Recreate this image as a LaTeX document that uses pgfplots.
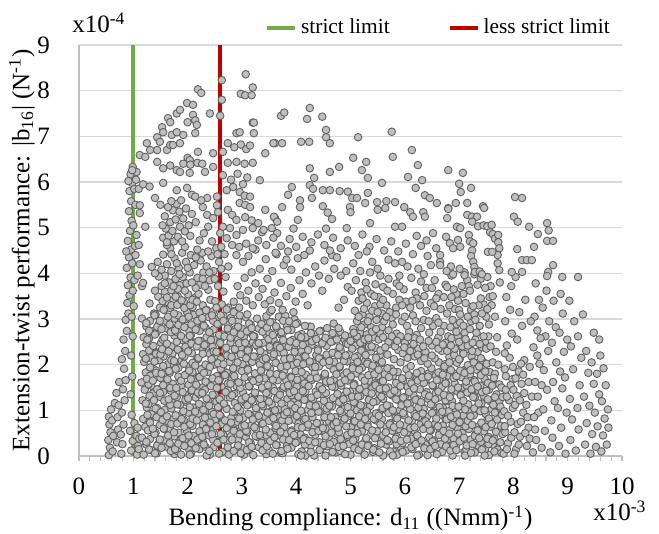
\documentclass[border=0pt]{standalone}
\usepackage{fontspec}
\setmainfont{Liberation Serif}
\usepackage{pgfplots}
\pgfplotsset{compat=1.18}
\definecolor{limgreen}{HTML}{70AD47}
\definecolor{limred}{HTML}{C00000}
\definecolor{gridgray}{HTML}{D9D9D9}
\definecolor{axgray}{HTML}{BFBFBF}
\newcommand{\lbl}{\fontsize{12.5}{14}\selectfont}
\pgfplotsset{dot/.style={only marks, mark=*, mark size=1.9pt,
  mark options={fill=gray!50, draw=black!62, line width=0.45pt}, forget plot}}

\begin{document}
\begin{tikzpicture}
\begin{axis}[
  width=271.5pt, height=205.5pt, scale only axis,
  xmin=0, xmax=10, ymin=0, ymax=9,
  xtick={0,...,10}, ytick={0,...,9},
  minor x tick num=4,
  axis x line*=bottom, axis y line*=left,
  axis line style={axgray, line width=0.6pt},
  ymajorgrids, grid style={gridgray, line width=0.6pt},
  tick align=outside,
  major tick length=2.5pt, minor tick length=2.5pt,
  x tick style={axgray, line width=0.6pt},
  y tick style={draw=none},
  clip=false,
  /pgf/number format/assume math mode=true,
  tick label style={font=\lbl},
  yticklabel style={xshift=-8.5pt},
  xticklabel style={yshift=-5pt},
  legend style={at={(axis description cs:0.331,1)}, anchor=south west,
    draw=none, fill=none, font=\fontsize{10.7}{12}\selectfont,
    /tikz/every even column/.append style={column sep=27pt}},
  legend columns=2,
  legend image code/.code={\draw[#1] (0pt,0pt) -- (14pt,0pt);},
]
% left edge
\addplot[dot] coordinates {
(0.55,0.02)(0.57,0.18)(0.54,0.35)(0.58,0.52)(0.56,0.69)(0.55,0.86)(0.59,1.02)(0.62,0.10)(0.63,0.44)(0.61,0.78)(0.66,1.16)(0.70,0.30)(0.72,0.58)(0.71,0.85)(0.69,1.38)(0.74,1.62)(0.73,1.11)
(0.78,0.05)(0.80,0.26)(0.77,0.47)(0.82,0.69)(0.79,0.95)(0.84,1.22)(0.81,1.46)(0.86,1.66)(0.83,1.91)(0.79,2.12)(0.85,2.30)(0.82,2.55)(0.88,2.74)(0.86,2.98)(0.91,3.12)(0.89,3.35)(0.93,3.52)(0.90,3.74)(0.95,3.91)(0.88,4.12)(0.92,4.35)(0.96,4.52)(0.90,4.71)(0.94,4.93)(0.97,5.15)(0.92,5.36)(0.96,5.58)(0.93,5.80)(0.98,5.98)(0.95,6.17)(0.99,6.33)(0.91,6.02)(0.87,4.48)
(0.96,0.12)(0.99,0.33)(0.94,0.55)(1.02,0.72)(0.97,0.90)(0.95,1.35)(0.98,1.74)(0.96,2.20)(0.99,2.62)(0.97,3.05)(1.01,3.28)(0.99,3.62)(1.02,3.85)(0.98,4.22)(1.03,4.60)(1.00,5.05)(1.04,5.50)(1.02,5.85)(1.06,6.22)
(1.07,0.03)(1.09,0.22)(1.06,0.44)(1.10,0.15)(1.08,0.62)(1.11,0.38)
};
% dense core, first layer
\addplot[dot] coordinates {
(1.19,0.03)(1.24,0.25)(1.16,0.40)(1.22,0.64)(1.18,0.81)(1.25,1.06)(1.17,1.22)(1.21,1.45)(1.15,1.61)(1.23,1.83)(1.20,2.06)(1.18,2.23)(1.24,2.45)(1.19,2.60)(1.24,2.84)(1.16,3.01)
(1.35,0.12)(1.31,0.37)(1.38,0.53)(1.30,0.76)(1.34,0.92)(1.28,1.14)(1.36,1.37)(1.33,1.54)(1.31,1.76)(1.37,1.91)(1.32,2.15)(1.37,2.32)(1.29,2.57)(1.35,2.73)(1.31,2.96)(1.38,3.12)(1.30,3.34)
(1.43,0.06)(1.47,0.28)(1.41,0.51)(1.49,0.68)(1.46,0.90)(1.44,1.05)(1.50,1.29)(1.45,1.46)(1.50,1.71)(1.42,1.87)(1.48,2.10)(1.44,2.26)(1.51,2.48)(1.43,2.71)(1.47,2.88)(1.41,3.10)(1.49,3.25)(1.46,3.49)
(1.62,0.20)(1.59,0.35)(1.57,0.59)(1.63,0.76)(1.58,1.01)(1.63,1.17)(1.55,1.40)(1.61,1.56)(1.57,1.78)(1.64,2.01)(1.56,2.18)(1.60,2.40)(1.54,2.55)(1.62,2.79)(1.59,2.96)(1.57,3.21)(1.63,3.37)(1.58,3.60)
(1.76,0.04)(1.71,0.20)(1.76,0.43)(1.68,0.59)(1.74,0.81)(1.70,1.04)(1.77,1.21)(1.69,1.43)(1.73,1.58)(1.67,1.82)(1.75,1.99)(1.72,2.24)(1.70,2.40)(1.76,2.63)(1.71,2.79)(1.76,3.01)(1.68,3.24)(1.74,3.41)(1.70,3.63)
(1.81,0.11)(1.87,0.34)(1.83,0.51)(1.90,0.73)(1.82,0.88)(1.86,1.12)(1.80,1.29)(1.88,1.54)(1.85,1.70)(1.83,1.93)(1.89,2.09)(1.84,2.31)(1.89,2.54)(1.81,2.71)(1.87,2.93)(1.83,3.08)(1.90,3.32)(1.82,3.49)(1.86,3.74)
(2.03,0.13)(1.95,0.37)(1.99,0.54)(1.93,0.79)(2.01,0.95)(1.98,1.18)(1.96,1.34)(2.02,1.56)(1.97,1.79)(2.02,1.96)(1.94,2.18)(2.00,2.33)(1.96,2.57)(2.03,2.74)(1.95,2.99)(1.99,3.15)(1.93,3.38)(2.01,3.54)
(2.06,0.05)(2.14,0.28)(2.11,0.44)(2.09,0.66)(2.15,0.89)(2.10,1.06)(2.15,1.28)(2.07,1.43)(2.13,1.67)(2.09,1.84)(2.16,2.09)(2.08,2.25)(2.12,2.48)(2.06,2.64)(2.14,2.86)(2.11,3.09)(2.09,3.26)(2.15,3.48)
(2.22,0.15)(2.28,0.32)(2.23,0.54)(2.28,0.69)(2.20,0.93)(2.26,1.10)(2.22,1.35)(2.29,1.51)(2.21,1.74)(2.25,1.90)(2.19,2.12)(2.27,2.35)(2.24,2.52)(2.22,2.74)(2.28,2.89)(2.23,3.13)(2.28,3.30)(2.20,3.55)
(2.41,0.03)(2.33,0.20)(2.39,0.45)(2.35,0.61)(2.42,0.84)(2.34,1.00)(2.38,1.22)(2.32,1.45)(2.40,1.62)(2.37,1.84)(2.35,1.99)(2.41,2.23)(2.36,2.40)(2.41,2.65)(2.33,2.81)(2.39,3.04)(2.35,3.20)(2.42,3.42)
(2.48,0.19)(2.55,0.35)(2.47,0.57)(2.51,0.80)(2.45,0.97)(2.53,1.19)(2.50,1.34)(2.48,1.58)(2.54,1.75)(2.49,2.00)(2.54,2.16)(2.46,2.39)(2.52,2.55)(2.48,2.77)(2.55,3.00)(2.47,3.17)(2.51,3.39)
(2.64,0.09)(2.58,0.31)(2.66,0.46)(2.63,0.70)(2.61,0.87)(2.67,1.12)(2.62,1.28)(2.67,1.51)(2.59,1.67)(2.65,1.89)(2.61,2.12)(2.68,2.29)(2.60,2.51)(2.64,2.66)(2.58,2.90)(2.66,3.07)(2.63,3.32)
(2.76,0.03)(2.74,0.28)(2.80,0.44)(2.75,0.67)(2.80,0.83)(2.72,1.05)(2.78,1.28)(2.74,1.45)(2.81,1.67)(2.73,1.82)(2.77,2.06)(2.71,2.23)(2.79,2.48)(2.76,2.64)(2.74,2.87)(2.80,3.03)(2.75,3.25)
(2.88,0.13)(2.93,0.35)(2.85,0.58)(2.91,0.75)(2.87,0.97)(2.94,1.12)(2.86,1.36)(2.90,1.53)(2.84,1.78)(2.92,1.94)(2.89,2.17)(2.87,2.33)(2.93,2.55)(2.88,2.78)(2.93,2.95)(2.85,3.17)
(3.04,0.03)(3.00,0.18)(3.07,0.42)(2.99,0.59)(3.03,0.84)(2.97,1.00)(3.05,1.23)(3.02,1.39)(3.00,1.61)(3.06,1.84)(3.01,2.01)(3.06,2.23)(2.98,2.38)(3.04,2.62)(3.00,2.79)(3.07,3.04)
(3.12,0.13)(3.16,0.29)(3.10,0.52)(3.18,0.68)(3.15,0.90)(3.13,1.13)(3.19,1.30)(3.14,1.52)(3.19,1.67)(3.11,1.91)(3.17,2.08)(3.13,2.33)(3.20,2.49)(3.12,2.72)(3.16,2.88)(3.10,3.10)
(3.31,0.19)(3.28,0.42)(3.26,0.59)(3.32,0.81)(3.27,0.96)(3.32,1.20)(3.24,1.37)(3.30,1.62)(3.26,1.78)(3.33,2.01)(3.25,2.17)(3.29,2.39)(3.23,2.62)(3.31,2.79)(3.28,3.01)
(3.45,0.04)(3.40,0.28)(3.45,0.45)(3.37,0.70)(3.43,0.86)(3.39,1.09)(3.46,1.25)(3.38,1.47)(3.42,1.70)(3.36,1.87)(3.44,2.09)(3.41,2.24)(3.39,2.48)(3.45,2.65)(3.40,2.90)(3.45,3.06)
(3.50,0.12)(3.56,0.35)(3.52,0.51)(3.59,0.73)(3.51,0.96)(3.55,1.13)(3.49,1.35)(3.57,1.50)(3.54,1.74)(3.52,1.91)(3.58,2.16)(3.53,2.32)(3.58,2.55)(3.50,2.71)(3.56,2.93)(3.52,3.16)
(3.72,0.07)(3.64,0.24)(3.68,0.46)(3.62,0.61)(3.70,0.85)(3.67,1.02)(3.65,1.27)(3.71,1.43)(3.66,1.66)(3.71,1.82)(3.63,2.04)(3.69,2.27)(3.65,2.44)(3.72,2.66)(3.64,2.81)(3.68,3.05)
(3.75,0.06)(3.83,0.23)(3.80,0.48)(3.78,0.64)(3.84,0.87)(3.79,1.03)(3.84,1.25)(3.76,1.48)(3.82,1.65)(3.78,1.87)(3.85,2.02)(3.77,2.26)(3.81,2.43)(3.75,2.68)(3.83,2.84)(3.80,3.07)
(3.91,0.18)(3.97,0.34)(3.92,0.56)(3.97,0.79)(3.89,0.96)(3.95,1.18)(3.91,1.33)(3.98,1.57)(3.90,1.74)(3.94,1.99)(3.88,2.15)(3.96,2.38)(3.93,2.54)(3.91,2.76)(3.97,2.99)
(4.10,0.10)(4.02,0.32)(4.08,0.47)(4.04,0.71)(4.11,0.88)(4.03,1.13)(4.07,1.29)(4.01,1.52)(4.09,1.68)(4.06,1.90)(4.04,2.13)(4.10,2.30)(4.05,2.52)(4.10,2.67)(4.02,2.91)
(4.17,0.01)(4.24,0.24)(4.16,0.40)(4.20,0.63)(4.14,0.79)(4.22,1.01)(4.19,1.24)(4.17,1.41)(4.23,1.63)(4.18,1.78)(4.23,2.02)(4.15,2.19)(4.21,2.44)(4.17,2.60)(4.24,2.83)
(4.33,0.01)(4.27,0.23)(4.35,0.46)(4.32,0.63)(4.30,0.85)(4.36,1.00)(4.31,1.24)(4.36,1.41)(4.28,1.66)(4.34,1.82)(4.30,2.05)(4.37,2.21)(4.29,2.43)(4.33,2.66)(4.27,2.83)
(4.45,0.15)(4.43,0.30)(4.49,0.54)(4.44,0.71)(4.49,0.96)(4.41,1.12)(4.47,1.35)(4.43,1.51)(4.50,1.73)(4.42,1.96)(4.46,2.13)(4.40,2.35)(4.48,2.50)(4.45,2.74)
(4.57,0.21)(4.62,0.37)(4.54,0.60)(4.60,0.76)(4.56,0.98)(4.63,1.21)(4.55,1.38)(4.59,1.60)(4.53,1.75)(4.61,1.99)(4.58,2.16)(4.56,2.41)(4.62,2.57)(4.57,2.80)
(4.73,0.08)(4.69,0.31)(4.76,0.48)(4.68,0.70)(4.72,0.85)(4.66,1.09)(4.74,1.26)(4.71,1.51)(4.69,1.67)(4.75,1.90)(4.70,2.06)(4.75,2.28)(4.67,2.51)(4.73,2.68)(4.69,2.90)
(4.81,0.11)(4.85,0.35)(4.79,0.52)(4.87,0.77)(4.84,0.93)(4.82,1.16)(4.88,1.32)(4.83,1.54)(4.88,1.77)(4.80,1.94)(4.86,2.16)(4.82,2.31)(4.89,2.55)(4.81,2.72)
(5.00,0.03)(4.97,0.26)(4.95,0.42)(5.01,0.64)(4.96,0.87)(5.01,1.04)(4.93,1.26)(4.99,1.41)(4.95,1.65)(5.02,1.82)(4.94,2.07)(4.98,2.23)(4.92,2.46)(5.00,2.62)
(5.14,0.22)(5.09,0.39)(5.14,0.61)(5.06,0.76)(5.12,1.00)(5.08,1.17)(5.15,1.42)(5.07,1.58)(5.11,1.81)(5.05,1.97)(5.13,2.19)(5.10,2.42)(5.08,2.59)
(5.19,0.12)(5.25,0.29)(5.21,0.54)(5.28,0.70)(5.20,0.93)(5.24,1.09)(5.18,1.31)(5.26,1.54)(5.23,1.71)(5.21,1.93)(5.27,2.08)(5.22,2.32)(5.27,2.49)
(5.41,0.09)(5.33,0.25)(5.37,0.47)(5.31,0.70)(5.39,0.87)(5.36,1.09)(5.34,1.24)(5.40,1.48)(5.35,1.65)(5.40,1.90)(5.32,2.06)(5.38,2.29)(5.34,2.45)
(5.44,0.17)(5.52,0.39)(5.49,0.54)(5.47,0.78)(5.53,0.95)(5.48,1.20)(5.53,1.36)(5.45,1.59)(5.51,1.75)(5.47,1.97)(5.54,2.20)(5.46,2.37)
(5.60,0.01)(5.66,0.25)(5.61,0.41)(5.66,0.64)(5.58,0.80)(5.64,1.02)(5.60,1.25)(5.67,1.42)(5.59,1.64)(5.63,1.79)(5.57,2.03)
(5.79,0.10)(5.71,0.32)(5.77,0.55)(5.73,0.72)(5.80,0.94)(5.72,1.09)(5.76,1.33)(5.70,1.50)(5.78,1.75)(5.75,1.91)
(5.86,0.03)(5.93,0.18)(5.85,0.42)(5.89,0.59)(5.83,0.84)(5.91,1.00)(5.88,1.23)(5.86,1.39)(5.92,1.61)(5.87,1.84)
(6.02,0.12)(5.96,0.28)(6.04,0.51)(6.01,0.67)(5.99,0.89)(6.05,1.12)(6.00,1.29)(6.05,1.51)(5.97,1.66)(6.03,1.90)
(6.14,0.15)(6.12,0.38)(6.18,0.55)(6.13,0.77)(6.18,0.92)(6.10,1.16)(6.16,1.33)(6.12,1.58)(6.19,1.74)(6.11,1.97)
(6.26,0.03)(6.31,0.27)(6.23,0.44)(6.29,0.69)(6.25,0.85)(6.32,1.08)(6.24,1.24)(6.28,1.46)(6.22,1.69)(6.30,1.86)
(6.42,0.02)(6.38,0.25)(6.45,0.41)(6.37,0.63)(6.41,0.86)(6.35,1.03)(6.43,1.25)(6.40,1.40)(6.38,1.64)(6.44,1.81)
(6.50,0.17)(6.54,0.34)(6.48,0.56)(6.56,0.71)(6.53,0.95)(6.51,1.12)(6.57,1.37)(6.52,1.53)(6.57,1.76)(6.49,1.92)
(6.69,0.09)(6.66,0.26)(6.64,0.51)(6.70,0.67)(6.65,0.90)(6.70,1.06)(6.62,1.28)(6.68,1.51)(6.64,1.68)(6.71,1.90)(6.63,2.05)
(6.83,0.20)(6.78,0.36)(6.83,0.58)(6.75,0.81)(6.81,0.98)(6.77,1.20)(6.84,1.35)(6.76,1.59)(6.80,1.76)(6.74,2.01)(6.82,2.17)
(6.88,0.01)(6.94,0.23)(6.90,0.38)(6.97,0.62)(6.89,0.79)(6.93,1.04)(6.87,1.20)(6.95,1.43)(6.92,1.59)(6.90,1.81)(6.96,2.04)(6.91,2.21)
(7.10,0.09)(7.02,0.34)(7.06,0.50)(7.00,0.73)(7.08,0.89)(7.05,1.11)(7.03,1.34)(7.09,1.51)(7.04,1.73)(7.09,1.88)(7.01,2.12)(7.07,2.29)
(7.13,0.14)(7.21,0.36)(7.18,0.59)(7.16,0.76)(7.22,0.98)(7.17,1.13)(7.22,1.37)(7.14,1.54)(7.20,1.79)(7.16,1.95)(7.23,2.18)(7.15,2.34)
(7.29,0.08)(7.35,0.23)(7.30,0.47)(7.35,0.64)(7.27,0.89)(7.33,1.05)(7.29,1.28)(7.36,1.44)(7.28,1.66)(7.32,1.89)(7.26,2.06)(7.34,2.28)
(7.48,0.15)(7.40,0.31)(7.46,0.54)(7.42,0.70)(7.49,0.92)(7.41,1.15)(7.45,1.32)(7.39,1.54)(7.47,1.69)(7.44,1.93)(7.42,2.10)
(7.55,0.02)(7.62,0.25)(7.54,0.42)(7.58,0.64)(7.52,0.79)(7.60,1.03)(7.57,1.20)(7.55,1.45)(7.61,1.61)(7.56,1.84)
(7.71,0.14)(7.65,0.38)(7.73,0.55)(7.70,0.80)(7.68,0.96)(7.74,1.19)(7.69,1.35)(7.74,1.57)(7.66,1.80)
};
% dense core, second layer
\addplot[dot] coordinates {
(1.29,0.14)(1.24,0.31)(1.27,0.56)(1.31,0.73)(1.26,0.90)(1.23,1.15)(1.30,1.32)(1.28,1.57)(1.25,1.69)(1.31,1.94)(1.23,2.13)(1.29,2.31)(1.26,2.55)(1.29,2.74)(1.24,2.91)
(1.40,0.06)(1.44,0.23)(1.39,0.48)(1.36,0.60)(1.43,0.85)(1.41,1.04)(1.38,1.22)(1.44,1.46)(1.36,1.65)(1.42,1.82)(1.39,2.07)(1.42,2.24)(1.37,2.41)(1.40,2.66)(1.44,2.83)(1.39,3.08)
(1.52,0.18)(1.49,0.36)(1.56,0.60)(1.54,0.79)(1.51,0.96)(1.57,1.21)(1.49,1.38)(1.55,1.55)(1.52,1.80)(1.55,1.97)(1.50,2.22)(1.53,2.34)(1.57,2.59)(1.52,2.78)(1.49,2.96)(1.56,3.20)(1.54,3.39)
(1.69,0.11)(1.67,0.28)(1.64,0.45)(1.70,0.70)(1.62,0.87)(1.68,1.12)(1.65,1.24)(1.68,1.49)(1.63,1.68)(1.66,1.86)(1.70,2.10)(1.65,2.29)(1.62,2.46)(1.69,2.71)(1.67,2.88)(1.64,3.05)(1.70,3.30)(1.62,3.47)
(1.77,0.15)(1.83,0.27)(1.75,0.52)(1.81,0.71)(1.78,0.89)(1.81,1.13)(1.76,1.32)(1.79,1.49)(1.83,1.74)(1.78,1.91)(1.75,2.08)(1.82,2.33)(1.80,2.50)(1.77,2.75)(1.83,2.87)(1.75,3.12)(1.81,3.31)(1.78,3.49)
(1.88,0.03)(1.94,0.22)(1.91,0.39)(1.94,0.64)(1.89,0.81)(1.92,0.98)(1.96,1.23)(1.91,1.40)(1.88,1.65)(1.95,1.77)(1.93,2.02)(1.90,2.21)(1.96,2.39)(1.88,2.63)(1.94,2.82)(1.91,2.99)(1.94,3.24)(1.89,3.41)
(2.04,0.03)(2.07,0.28)(2.02,0.45)(2.05,0.70)(2.09,0.82)(2.04,1.07)(2.01,1.26)(2.08,1.44)(2.06,1.68)(2.03,1.87)(2.09,2.04)(2.01,2.29)(2.07,2.46)(2.04,2.63)(2.07,2.88)(2.02,3.05)(2.05,3.30)(2.09,3.42)
(2.15,0.17)(2.18,0.36)(2.22,0.54)(2.17,0.78)(2.14,0.97)(2.21,1.14)(2.19,1.39)(2.16,1.56)(2.22,1.73)(2.14,1.98)(2.20,2.15)(2.17,2.40)(2.20,2.52)(2.15,2.77)(2.18,2.96)(2.22,3.14)(2.17,3.38)
(2.35,0.01)(2.30,0.25)(2.27,0.42)(2.34,0.59)(2.32,0.84)(2.29,1.01)(2.35,1.26)(2.27,1.38)(2.33,1.63)(2.30,1.82)(2.33,2.00)(2.28,2.24)(2.31,2.43)(2.35,2.60)(2.30,2.85)(2.27,3.02)(2.34,3.19)
(2.40,0.11)(2.47,0.36)(2.45,0.48)(2.42,0.73)(2.48,0.92)(2.40,1.10)(2.46,1.34)(2.43,1.53)(2.46,1.70)(2.41,1.95)(2.44,2.12)(2.48,2.29)(2.43,2.54)(2.40,2.71)(2.47,2.96)(2.45,3.08)
(2.58,0.05)(2.55,0.29)(2.61,0.48)(2.53,0.65)(2.59,0.90)(2.56,1.07)(2.59,1.24)(2.54,1.49)(2.57,1.66)(2.61,1.91)(2.56,2.03)(2.53,2.28)(2.60,2.47)(2.58,2.65)(2.55,2.89)(2.61,3.08)(2.53,3.25)
(2.74,0.19)(2.66,0.36)(2.72,0.61)(2.69,0.78)(2.72,1.03)(2.67,1.15)(2.70,1.40)(2.74,1.59)(2.69,1.77)(2.66,2.01)(2.73,2.20)(2.71,2.37)(2.68,2.62)(2.74,2.79)(2.66,2.96)(2.72,3.21)
(2.85,0.11)(2.82,0.36)(2.85,0.55)(2.80,0.73)(2.83,0.97)(2.87,1.16)(2.82,1.33)(2.79,1.58)(2.86,1.75)(2.84,1.92)(2.81,2.17)(2.87,2.34)(2.79,2.59)(2.85,2.71)(2.82,2.96)(2.85,3.15)
(2.98,0.06)(2.93,0.23)(2.96,0.48)(3.00,0.65)(2.95,0.82)(2.92,1.07)(2.99,1.24)(2.97,1.49)(2.94,1.61)(3.00,1.86)(2.92,2.05)(2.98,2.23)(2.95,2.47)(2.98,2.66)(2.93,2.83)(2.96,3.08)
(3.09,0.13)(3.13,0.30)(3.08,0.55)(3.05,0.67)(3.12,0.92)(3.10,1.11)(3.07,1.29)(3.13,1.53)(3.05,1.72)(3.11,1.89)(3.08,2.14)(3.11,2.31)(3.06,2.48)(3.09,2.73)(3.13,2.90)
(3.21,0.02)(3.18,0.20)(3.25,0.44)(3.23,0.63)(3.20,0.80)(3.26,1.05)(3.18,1.22)(3.24,1.39)(3.21,1.64)(3.24,1.81)(3.19,2.06)(3.22,2.18)(3.26,2.43)(3.21,2.62)(3.18,2.80)
(3.38,0.12)(3.36,0.29)(3.33,0.46)(3.39,0.71)(3.31,0.88)(3.37,1.13)(3.34,1.25)(3.37,1.50)(3.32,1.69)(3.35,1.87)(3.39,2.11)(3.34,2.30)(3.31,2.47)(3.38,2.72)(3.36,2.89)
(3.46,0.21)(3.52,0.33)(3.44,0.58)(3.50,0.77)(3.47,0.95)(3.50,1.19)(3.45,1.38)(3.48,1.55)(3.52,1.80)(3.47,1.97)(3.44,2.14)(3.51,2.39)(3.49,2.56)(3.46,2.81)(3.52,2.93)
(3.57,0.05)(3.63,0.24)(3.60,0.41)(3.63,0.66)(3.58,0.83)(3.61,1.00)(3.65,1.25)(3.60,1.42)(3.57,1.67)(3.64,1.79)(3.62,2.04)(3.59,2.23)(3.65,2.41)(3.57,2.65)(3.63,2.84)
(3.73,0.11)(3.76,0.36)(3.71,0.53)(3.74,0.78)(3.78,0.90)(3.73,1.15)(3.70,1.34)(3.77,1.52)(3.75,1.76)(3.72,1.95)(3.78,2.12)(3.70,2.37)(3.76,2.54)(3.73,2.71)(3.76,2.96)
(3.84,0.16)(3.87,0.35)(3.91,0.53)(3.86,0.77)(3.83,0.96)(3.90,1.13)(3.88,1.38)(3.85,1.55)(3.91,1.72)(3.83,1.97)(3.89,2.14)(3.86,2.39)(3.89,2.51)(3.84,2.76)(3.87,2.95)
(4.04,0.04)(3.99,0.29)(3.96,0.46)(4.03,0.63)(4.01,0.88)(3.98,1.05)(4.04,1.30)(3.96,1.42)(4.02,1.67)(3.99,1.86)(4.02,2.04)(3.97,2.28)(4.00,2.47)(4.04,2.64)(3.99,2.89)
(4.09,0.01)(4.16,0.25)(4.14,0.37)(4.11,0.62)(4.17,0.81)(4.09,0.99)(4.15,1.23)(4.12,1.42)(4.15,1.59)(4.10,1.84)(4.13,2.01)(4.17,2.18)(4.12,2.43)(4.09,2.60)(4.16,2.85)
(4.27,0.09)(4.24,0.33)(4.30,0.52)(4.22,0.69)(4.28,0.94)(4.25,1.11)(4.28,1.28)(4.23,1.53)(4.26,1.70)(4.30,1.95)(4.25,2.07)(4.22,2.32)(4.29,2.51)(4.27,2.69)
(4.43,0.13)(4.35,0.30)(4.41,0.55)(4.38,0.72)(4.41,0.97)(4.36,1.09)(4.39,1.34)(4.43,1.53)(4.38,1.71)(4.35,1.95)(4.42,2.14)(4.40,2.31)(4.37,2.56)(4.43,2.73)
(4.54,0.01)(4.51,0.24)(4.54,0.43)(4.49,0.61)(4.52,0.85)(4.56,1.04)(4.51,1.21)(4.48,1.46)(4.55,1.63)(4.53,1.80)(4.50,2.05)(4.56,2.22)(4.48,2.47)(4.54,2.59)
(4.67,0.09)(4.62,0.26)(4.65,0.51)(4.69,0.68)(4.64,0.85)(4.61,1.10)(4.68,1.27)(4.66,1.52)(4.63,1.64)(4.69,1.89)(4.61,2.08)(4.67,2.26)(4.64,2.50)(4.67,2.69)
(4.78,0.20)(4.82,0.37)(4.77,0.62)(4.74,0.74)(4.81,0.99)(4.79,1.18)(4.76,1.36)(4.82,1.60)(4.74,1.79)(4.80,1.96)(4.77,2.21)(4.80,2.38)(4.75,2.55)(4.78,2.80)
(4.90,0.04)(4.87,0.22)(4.94,0.46)(4.92,0.65)(4.89,0.82)(4.95,1.07)(4.87,1.24)(4.93,1.41)(4.90,1.66)(4.93,1.83)(4.88,2.08)(4.91,2.20)(4.95,2.45)(4.90,2.64)
(5.07,0.17)(5.05,0.34)(5.02,0.51)(5.08,0.76)(5.00,0.93)(5.06,1.18)(5.03,1.30)(5.06,1.55)(5.01,1.74)(5.04,1.92)(5.08,2.16)(5.03,2.35)(5.00,2.52)
(5.15,0.13)(5.21,0.25)(5.13,0.50)(5.19,0.69)(5.16,0.87)(5.19,1.11)(5.14,1.30)(5.17,1.47)(5.21,1.72)(5.16,1.89)(5.13,2.06)(5.20,2.31)(5.18,2.48)
(5.26,0.03)(5.32,0.22)(5.29,0.39)(5.32,0.64)(5.27,0.81)(5.30,0.98)(5.34,1.23)(5.29,1.40)(5.26,1.65)(5.33,1.77)(5.31,2.02)(5.28,2.21)(5.34,2.39)
(5.42,0.14)(5.45,0.39)(5.40,0.56)(5.43,0.81)(5.47,0.93)(5.42,1.18)(5.39,1.37)(5.46,1.55)(5.44,1.79)(5.41,1.98)(5.47,2.15)(5.39,2.40)
(5.53,0.08)(5.56,0.27)(5.60,0.45)(5.55,0.69)(5.52,0.88)(5.59,1.05)(5.57,1.30)(5.54,1.47)(5.60,1.64)(5.52,1.89)(5.58,2.06)(5.55,2.31)
(5.73,0.10)(5.68,0.35)(5.65,0.52)(5.72,0.69)(5.70,0.94)(5.67,1.11)(5.73,1.36)(5.65,1.48)(5.71,1.73)(5.68,1.92)
(5.78,0.01)(5.85,0.26)(5.83,0.38)(5.80,0.63)(5.86,0.82)(5.78,1.00)(5.84,1.24)(5.81,1.43)(5.84,1.60)(5.79,1.85)
(5.96,0.09)(5.93,0.33)(5.99,0.52)(5.91,0.69)(5.97,0.94)(5.94,1.11)(5.97,1.28)(5.92,1.53)(5.95,1.70)
(6.12,0.19)(6.04,0.36)(6.10,0.61)(6.07,0.78)(6.10,1.03)(6.05,1.15)(6.08,1.40)(6.12,1.59)(6.07,1.77)
(6.23,0.01)(6.20,0.26)(6.23,0.45)(6.18,0.63)(6.21,0.87)(6.25,1.06)(6.20,1.23)(6.17,1.48)(6.24,1.65)(6.22,1.82)
(6.36,0.17)(6.31,0.34)(6.34,0.59)(6.38,0.76)(6.33,0.93)(6.30,1.18)(6.37,1.35)(6.35,1.60)(6.32,1.72)
(6.47,0.15)(6.51,0.32)(6.46,0.57)(6.43,0.69)(6.50,0.94)(6.48,1.13)(6.45,1.31)(6.51,1.55)(6.43,1.74)
(6.59,0.04)(6.56,0.22)(6.63,0.46)(6.61,0.65)(6.58,0.82)(6.64,1.07)(6.56,1.24)(6.62,1.41)(6.59,1.66)(6.62,1.83)
(6.76,0.21)(6.74,0.38)(6.71,0.55)(6.77,0.80)(6.69,0.97)(6.75,1.22)(6.72,1.34)(6.75,1.59)(6.70,1.78)(6.73,1.96)
(6.84,0.12)(6.90,0.24)(6.82,0.49)(6.88,0.68)(6.85,0.86)(6.88,1.10)(6.83,1.29)(6.86,1.46)(6.90,1.71)(6.85,1.88)(6.82,2.05)
(6.95,0.13)(7.01,0.32)(6.98,0.49)(7.01,0.74)(6.96,0.91)(6.99,1.08)(7.03,1.33)(6.98,1.50)(6.95,1.75)(7.02,1.87)(7.00,2.12)
(7.11,0.01)(7.14,0.23)(7.09,0.40)(7.12,0.65)(7.16,0.77)(7.11,1.02)(7.08,1.21)(7.15,1.39)(7.13,1.63)(7.10,1.82)(7.16,1.99)(7.08,2.24)
(7.22,0.07)(7.25,0.26)(7.29,0.44)(7.24,0.68)(7.21,0.87)(7.28,1.04)(7.26,1.29)(7.23,1.46)(7.29,1.63)(7.21,1.88)(7.27,2.05)(7.24,2.30)
(7.42,0.14)(7.37,0.39)(7.34,0.56)(7.41,0.73)(7.39,0.98)(7.36,1.15)(7.42,1.40)(7.34,1.52)(7.40,1.77)(7.37,1.96)(7.40,2.14)
(7.47,0.01)(7.54,0.26)(7.52,0.38)(7.49,0.63)(7.55,0.82)(7.47,1.00)(7.53,1.24)(7.50,1.43)(7.53,1.60)(7.48,1.85)(7.51,2.02)
(7.65,0.10)(7.62,0.34)(7.68,0.53)(7.60,0.70)(7.66,0.95)(7.63,1.12)(7.66,1.29)(7.61,1.54)(7.64,1.71)
(7.78,0.07)(7.76,0.30)(7.80,0.48)(7.77,0.66)(7.79,0.90)(7.76,1.08)(7.80,1.29)(7.78,1.50)
};
% medium band above the core
\addplot[dot] coordinates {
(1.52,3.72)(1.66,3.80)(1.58,3.95)(1.78,3.88)(1.70,4.05)(1.91,3.92)(1.84,4.12)(1.62,4.20)(2.04,4.02)(1.97,4.25)(2.18,3.90)(1.76,4.33)(2.12,4.18)(1.55,4.41)(1.90,4.45)(2.29,4.02)(2.23,3.75)(2.41,3.85)(2.35,4.15)(2.06,4.40)(1.68,4.55)(2.48,4.05)(2.56,3.72)(2.62,4.10)(2.44,4.38)(2.70,3.92)(2.27,4.45)(2.53,4.55)(1.47,3.93)(1.82,3.66)(2.15,3.68)(2.68,4.42)(2.38,3.64)(1.98,3.78)(1.62,4.62)
(1.40,3.62)(1.58,3.78)(1.74,3.72)(1.95,3.62)(2.08,3.80)(2.32,3.72)(2.50,3.88)(2.66,3.60)(1.52,4.08)(1.80,4.22)(2.00,4.12)(2.24,4.28)(2.40,4.02)(2.58,4.25)(2.75,4.15)(1.70,4.42)(1.95,4.58)(2.18,4.52)(2.38,4.48)(2.62,4.58)(1.85,3.98)(2.28,3.88)(2.55,4.42)(2.15,4.35)(1.45,4.25)
(1.55,4.78)(1.65,4.82)(1.60,4.98)(1.75,4.70)(1.72,4.93)(1.82,4.80)(1.90,4.70)(1.86,5.02)(1.68,5.12)(1.78,5.18)(1.95,4.92)(1.58,5.25)(1.92,5.20)(1.73,5.38)(1.85,5.35)(1.64,5.45)(2.02,5.05)(1.80,5.52)(1.97,5.42)(1.54,5.05)(2.05,4.82)(1.70,5.58)(1.88,5.60)(1.62,4.68)(2.08,5.30)
(2.85,3.38)(2.97,3.52)(3.08,3.40)(2.92,3.72)(3.20,3.30)(3.12,3.62)(3.31,3.48)(3.25,3.78)(3.42,3.32)(3.05,3.90)(3.38,3.66)(3.52,3.41)(3.47,3.88)(3.60,3.58)(3.18,4.02)(3.68,3.35)(3.33,4.10)(3.72,3.79)(3.82,3.50)(3.56,4.05)(3.90,3.68)(3.99,3.38)(3.77,4.18)(3.02,4.25)(4.06,3.85)(3.44,4.31)(4.12,3.55)(3.91,4.08)(4.21,3.30)(3.64,4.42)(4.18,4.02)(4.28,3.78)(4.03,4.33)(2.90,4.40)(3.25,4.52)(4.35,4.15)(4.42,3.95)(3.85,4.48)(4.52,4.28)(4.60,3.88)(4.48,3.62)(4.70,4.10)(4.88,3.42)(4.95,3.70)(4.78,3.25)(4.66,4.40)(4.92,4.05)(4.25,4.50)(3.12,4.38)(4.82,3.95)(3.55,3.20)(3.95,3.15)(2.95,3.25)(3.75,3.20)
(5.05,2.78)(5.18,2.70)(5.12,2.95)(5.30,2.66)(5.25,2.88)(5.42,2.60)(5.38,2.82)(5.52,2.55)(5.08,3.18)(5.22,3.10)(5.35,3.05)(5.48,2.98)(5.15,3.40)(5.30,3.35)(5.45,3.28)(5.58,3.12)(5.02,3.62)(5.20,3.58)(5.38,3.55)(5.52,3.48)(5.10,3.85)(5.28,3.80)(5.46,3.76)(5.60,3.70)(5.18,4.05)(5.36,4.02)(5.55,3.95)(5.05,4.22)(5.40,4.25)(5.58,2.82)
(5.68,2.22)(5.80,2.12)(5.74,2.45)(5.92,2.05)(5.88,2.32)(6.05,2.15)(6.00,2.48)(6.18,2.18)(6.12,2.40)(6.30,2.08)(6.25,2.35)(6.42,2.02)(6.38,2.28)(6.55,2.14)(6.50,2.42)(6.68,2.30)(5.70,2.75)(5.85,2.68)(6.08,2.72)(6.22,2.65)(6.45,2.70)(6.62,2.60)(6.75,2.48)(5.76,3.02)(5.95,2.95)(6.15,3.08)(6.35,2.98)(6.58,3.02)(6.72,2.85)(5.66,3.30)(5.84,3.25)(6.02,3.38)(6.28,3.30)(6.48,3.35)(6.66,3.22)(5.78,3.55)(5.98,3.65)(6.20,3.58)(6.40,3.68)(6.62,3.55)(5.70,3.88)(5.90,3.95)(6.12,3.90)(6.35,3.98)(6.55,3.85)(6.75,3.75)(6.05,4.15)(6.48,4.18)(5.82,4.22)
(5.12,2.62)(5.26,2.55)(5.40,2.72)(5.55,2.68)(5.70,2.50)(5.82,2.40)(5.96,2.25)(6.10,2.30)(6.24,2.22)(6.36,2.14)(6.50,2.20)(6.62,2.35)(6.78,2.30)(6.92,2.35)(7.06,2.40)(5.62,2.95)(5.78,2.88)(5.92,2.62)(6.04,2.85)(6.18,2.58)(6.30,2.80)(6.52,2.85)(6.66,2.72)(6.80,2.62)(6.95,2.88)(7.10,2.70)(7.22,2.95)(7.38,2.85)(7.48,2.50)(5.25,3.22)(5.40,3.18)(5.55,3.32)(5.72,3.15)(5.90,3.42)(6.10,3.25)(6.22,3.45)(6.40,3.18)(6.58,3.45)(6.78,3.12)(6.92,3.22)(7.08,3.55)(7.22,3.20)(7.45,3.32)(7.60,3.30)(5.30,3.65)(5.68,3.62)(5.85,3.78)(6.30,3.82)(6.72,3.48)(6.95,3.55)(7.15,3.85)(7.40,3.88)(7.58,3.72)(5.50,4.10)(6.25,4.10)(6.85,4.15)
(5.06,2.70)(5.20,2.82)(5.33,2.58)(5.47,2.78)(5.60,2.60)(5.64,2.38)(5.76,2.62)(5.86,2.52)(5.99,2.38)(6.06,2.60)(6.16,2.45)(6.28,2.55)(6.34,2.40)(6.44,2.52)(6.58,2.50)(6.70,2.44)(6.86,2.58)(6.98,2.62)(7.16,2.42)(7.30,2.55)(7.42,2.38)(7.54,2.62)(5.15,3.05)(5.32,2.95)(5.50,3.15)(5.66,3.05)(5.84,3.10)(6.00,3.05)(6.20,2.95)(6.44,2.95)(6.62,2.92)(6.84,2.82)(7.02,2.92)(7.28,3.10)(7.50,3.05)(5.22,3.45)(5.44,3.50)(5.60,3.42)(5.95,3.30)(6.14,3.40)(6.36,3.50)(6.54,3.28)(6.86,3.48)(7.00,3.20)(7.36,3.30)(7.56,3.48)(5.90,3.72)(6.50,3.68)(6.78,3.70)(7.18,3.72)
(6.85,2.42)(7.00,2.50)(6.95,2.72)(7.12,2.56)(7.25,2.48)(7.08,2.85)(7.20,2.78)(7.38,2.45)(7.32,2.70)(7.50,2.35)(7.45,2.62)(7.62,2.05)(7.58,2.40)(7.72,2.00)(7.68,2.28)(6.88,2.98)(7.02,3.10)(7.16,3.05)(7.30,2.98)(7.42,3.12)(7.55,2.88)(7.70,2.60)(6.82,3.30)(6.98,3.40)(7.12,3.35)(7.26,3.28)(7.40,3.45)(7.52,3.22)(7.66,3.05)(6.90,3.65)(7.05,3.72)(7.20,3.62)(7.34,3.75)(7.48,3.68)(7.62,3.50)(6.86,3.95)(7.10,4.02)(7.28,3.98)(7.52,3.92)(7.75,3.80)
};
% right tail
\addplot[dot] coordinates {
(7.82,0.05)(7.90,0.28)(7.85,0.52)(7.95,0.75)(7.83,0.98)(7.92,1.22)(7.86,1.45)(7.98,1.68)(7.84,1.90)(7.93,2.15)(7.88,2.42)(7.97,2.68)(7.85,2.95)(7.94,3.20)(7.87,3.48)(7.96,3.72)(8.05,0.15)(8.12,0.42)(8.08,0.70)(8.18,0.95)(8.06,1.32)(8.15,1.58)(8.10,1.85)(8.20,2.10)(8.07,2.55)(8.16,2.85)(8.11,3.15)(8.22,3.42)(8.04,3.92)(8.25,0.22)(8.28,0.62)(8.24,1.12)(8.30,1.95)
(7.88,0.15)(7.96,0.40)(7.84,0.65)(7.90,0.88)(7.99,1.05)(7.88,1.30)(7.95,1.55)(7.86,1.75)(7.99,1.95)(7.84,2.25)(8.02,0.05)(8.10,0.25)(8.02,0.52)(8.14,0.75)(8.03,1.12)(8.12,1.22)(8.00,1.45)(8.20,1.38)(8.04,1.70)(8.14,2.02)(8.22,0.50)(8.30,0.38)(8.18,1.78)(8.26,0.85)(8.34,1.30)(8.28,1.62)(8.40,0.58)(8.46,0.95)(8.52,1.55)(8.44,2.20)
(8.36,0.08)(8.42,0.35)(8.38,0.85)(8.45,1.30)(8.40,1.62)(8.48,2.02)(8.37,2.38)(8.44,2.75)(8.39,3.05)(8.47,3.42)(8.41,3.78)(8.52,0.18)(8.58,0.55)(8.55,1.02)(8.62,1.45)(8.56,1.88)(8.64,2.30)(8.59,2.62)(8.66,2.95)(8.54,3.25)(8.61,3.62)(8.68,0.08)(8.72,0.40)(8.70,0.78)(8.76,1.20)(8.73,1.62)(8.79,2.05)(8.71,2.48)(8.78,2.82)(8.74,3.40)(8.84,0.22)(8.88,0.62)(8.82,1.05)(8.90,1.48)(8.86,1.85)(8.93,2.28)(8.85,2.70)(8.91,3.12)(8.96,0.05)(8.98,0.95)(8.95,1.72)(8.99,2.55)(8.87,3.55)(8.50,2.58)(8.32,2.95)
(9.05,0.35)(9.08,0.80)(9.04,1.25)(9.10,1.90)(9.06,2.40)(9.12,2.95)(9.03,3.40)(9.15,0.12)(9.20,0.58)(9.18,1.05)(9.22,1.55)(9.25,2.15)(9.19,2.62)(9.28,3.10)(9.32,0.25)(9.35,0.72)(9.30,1.30)(9.38,1.82)(9.34,2.30)(9.42,0.05)(9.45,0.48)(9.40,1.10)(9.48,1.58)(9.44,2.05)(9.52,0.20)(9.55,0.65)(9.50,0.95)(9.58,1.35)(9.54,1.80)(9.60,2.20)(9.62,0.10)(9.65,0.45)(9.68,0.82)(9.63,1.20)(9.70,1.55)(9.66,1.92)(9.72,0.25)(9.75,0.62)(9.74,1.02)(9.58,2.55)(9.48,2.70)
};
% sparse upper region
\addplot[dot] coordinates {
(1.12,6.59)(1.22,6.55)(1.25,6.85)(1.31,6.70)(1.44,6.98)(1.49,6.88)(1.44,6.70)(1.53,7.20)(1.55,7.09)(1.62,6.70)(1.64,7.40)(1.68,7.31)(1.68,6.81)(1.73,6.81)(1.71,7.03)(1.80,7.09)(1.80,7.50)(1.86,7.58)(1.86,6.85)(1.92,7.03)(1.99,7.73)(2.10,7.69)(2.10,7.47)(2.14,7.35)(2.17,7.25)(2.00,7.31)(2.14,7.07)(2.19,8.03)(2.25,7.95)(2.41,7.50)(2.19,6.66)(2.00,6.53)(2.04,6.48)(1.44,6.44)(1.55,6.30)(1.68,6.36)(1.80,6.26)(1.92,6.40)(2.05,6.38)(2.18,6.42)(2.27,6.40)(1.86,6.22)(2.04,6.20)(2.32,6.22)(2.47,6.33)(2.47,6.63)(2.65,6.66)(2.74,6.85)(2.86,6.76)(2.98,6.82)(3.08,6.72)(3.15,6.80)(3.20,7.30)(3.22,7.07)(2.90,7.07)(2.96,7.09)(3.07,8.36)(2.98,7.93)(3.06,7.90)(3.20,8.07)(3.18,7.90)(2.63,8.23)(2.63,7.80)(2.60,7.45)(3.61,6.85)(3.43,6.63)(2.74,6.42)(2.90,6.44)(3.05,6.40)(3.20,6.42)(2.65,6.15)(2.80,6.05)(2.92,6.18)(3.02,5.95)(3.10,6.10)(3.33,6.04)
(1.55,5.98)(1.80,5.82)(1.99,5.87)(2.08,5.72)(2.14,5.68)(2.36,5.65)(2.54,5.68)(2.72,5.82)(2.84,5.89)(2.96,5.78)(3.05,5.70)(3.15,5.68)(2.28,5.45)(2.36,5.28)(2.54,5.49)(2.56,5.34)(2.47,5.21)(2.38,5.02)(2.74,5.39)(2.82,5.28)(2.90,5.17)(2.96,5.54)(3.06,5.50)(3.15,5.45)(3.06,5.23)(3.18,5.16)(3.30,5.10)(3.43,5.39)(3.61,5.21)(2.65,5.02)(2.78,4.99)(2.60,4.88)(2.72,4.77)(2.90,4.84)(3.02,4.95)(3.20,4.99)(3.37,4.90)(3.55,4.99)(3.65,4.88)(2.82,4.62)(2.95,4.58)(3.08,4.65)(3.20,4.55)
(0.98,6.26)(1.05,6.05)(1.10,5.85)(1.18,5.95)(1.12,5.49)(1.12,5.32)(1.22,5.02)(1.06,4.84)(1.10,4.62)(1.04,4.40)(1.12,4.20)(1.08,3.95)(1.16,3.72)(1.34,4.14)(1.40,4.00)(1.18,3.79)(2.22,4.72)(2.30,4.88)(2.15,5.12)(2.45,4.70)(2.25,5.60)(1.40,5.65)(1.30,5.90)(1.50,5.50)
(4.25,7.62)(3.72,7.45)(3.78,7.52)(4.20,7.38)(4.48,7.43)(3.22,7.30)(4.55,7.14)(4.55,6.98)(4.62,6.85)(5.14,6.98)(5.76,7.10)(3.58,6.85)(3.74,6.85)(4.09,6.88)(4.24,6.88)(6.13,6.70)(5.05,6.53)(5.78,6.55)(5.29,6.44)(6.24,6.37)(4.25,6.30)(4.79,6.33)(4.62,6.22)(5.21,6.26)(6.80,6.26)(4.33,6.09)(5.32,6.09)(6.06,6.11)(6.32,6.04)(5.58,5.98)(3.92,5.89)(4.25,5.93)(4.31,5.85)(4.49,5.82)(4.62,5.82)(4.80,5.80)(4.95,5.79)(5.32,5.76)(6.20,5.87)(3.85,5.72)(4.07,5.60)(4.07,5.45)(3.74,5.45)(4.29,5.65)(5.03,5.65)(5.12,5.65)(5.49,5.56)(5.66,5.58)(5.82,5.56)(5.27,5.54)(5.99,5.45)(6.10,5.34)(6.37,5.71)(6.46,5.65)(6.59,5.54)(6.80,5.43)(4.49,5.47)(4.58,5.33)(4.66,5.19)(4.99,5.45)(5.00,5.34)(5.50,5.39)(5.64,5.43)(4.03,5.17)(6.15,5.24)(6.34,5.34)(6.37,5.24)(3.59,5.24)(3.65,5.13)(5.36,5.10)(5.82,5.02)(5.95,5.02)(4.93,4.99)(6.52,4.88)
(3.30,4.72)(3.45,4.62)(3.58,4.78)(3.72,4.60)(3.88,4.75)(4.00,4.58)(4.12,4.80)(4.28,4.68)(4.40,4.85)(4.52,4.62)(4.68,4.78)(4.82,4.55)(4.95,4.72)(5.08,4.60)(5.22,4.85)(5.35,4.58)(5.48,4.75)(5.62,4.50)(5.75,4.70)(5.88,4.48)(6.02,4.65)(6.15,4.42)(6.30,4.60)(6.42,4.38)(6.58,4.55)(3.40,4.95)(3.95,4.98)(4.55,4.98)(5.15,4.40)(5.70,4.30)(6.22,4.82)(6.65,4.25)(3.62,4.45)(4.15,4.40)(4.75,4.35)(5.30,4.48)(5.95,4.25)(6.40,4.72)(3.82,4.30)(4.62,4.50)
(7.07,6.20)(7.00,5.96)(7.03,5.78)(7.22,5.87)(6.94,5.54)(6.80,5.41)(6.78,5.21)(7.15,5.54)(7.44,5.47)(7.46,5.43)(8.03,5.67)(8.16,5.65)(8.01,5.24)(8.08,5.13)(7.15,5.28)(7.24,5.24)(7.33,5.24)(7.24,5.13)(6.96,5.02)(7.02,4.99)(7.35,5.03)(7.45,5.05)(7.52,5.03)(7.60,5.06)(8.29,5.02)(8.62,5.10)(8.65,4.94)(8.62,4.71)(8.73,4.71)(8.45,4.86)(6.76,4.80)(6.65,4.40)(6.83,4.66)(6.89,4.55)(6.98,4.73)(7.02,4.58)(7.18,4.84)(7.20,4.70)(7.26,4.66)(7.24,4.50)(7.22,4.38)(7.26,4.25)(7.28,4.14)(7.57,4.90)(7.62,4.86)(7.66,4.76)(7.72,4.84)(7.72,4.68)(7.74,4.55)(7.71,4.40)(7.71,4.22)(7.74,4.07)(7.53,4.47)(7.61,4.47)(8.07,4.53)(8.16,4.29)(8.25,4.29)(8.34,4.29)(8.38,4.58)(8.73,4.18)(8.64,4.03)(8.62,3.94)(8.90,3.92)(9.19,3.92)(6.65,4.18)(6.77,4.05)(6.89,3.98)(7.01,4.10)(7.10,3.96)(7.29,4.03)(7.38,4.04)(7.42,3.98)(7.97,4.03)(8.16,4.03)
};
% limits
\addplot[limgreen, line width=2pt] coordinates {(1,0) (1,9)};
\addlegendentry{strict limit}
\addplot[limred, line width=2pt] coordinates {(2.6,0) (2.6,9)};
\addlegendentry{less strict limit}
\node[rotate=90, anchor=center, font=\lbl] at ([xshift=-28.5pt]axis description cs:0,0.5)
  {Extension-twist performance: |b\textsubscript{16}| (N\textsuperscript{-1})};
\node[anchor=base, font=\lbl] at ([yshift=-35pt]axis description cs:0.5,0)
  {Bending compliance: d\textsubscript{11} ((Nmm)\textsuperscript{-1})};
\node[anchor=base west, inner sep=0pt, font=\lbl] at ([xshift=-3.5pt,yshift=6pt]axis description cs:0,1) {x10\textsuperscript{-4}};
\node[anchor=base west, inner sep=0pt, font=\lbl] at ([xshift=-14.5pt,yshift=-32.5pt]axis description cs:1,0) {x10\textsuperscript{-3}};
\coordinate (ll) at (rel axis cs:0,0);
\end{axis}
\pgfresetboundingbox
\path (ll) ++(-39.5pt,-39pt) rectangle ++(329.5pt,267pt);
\end{tikzpicture}
\end{document}
